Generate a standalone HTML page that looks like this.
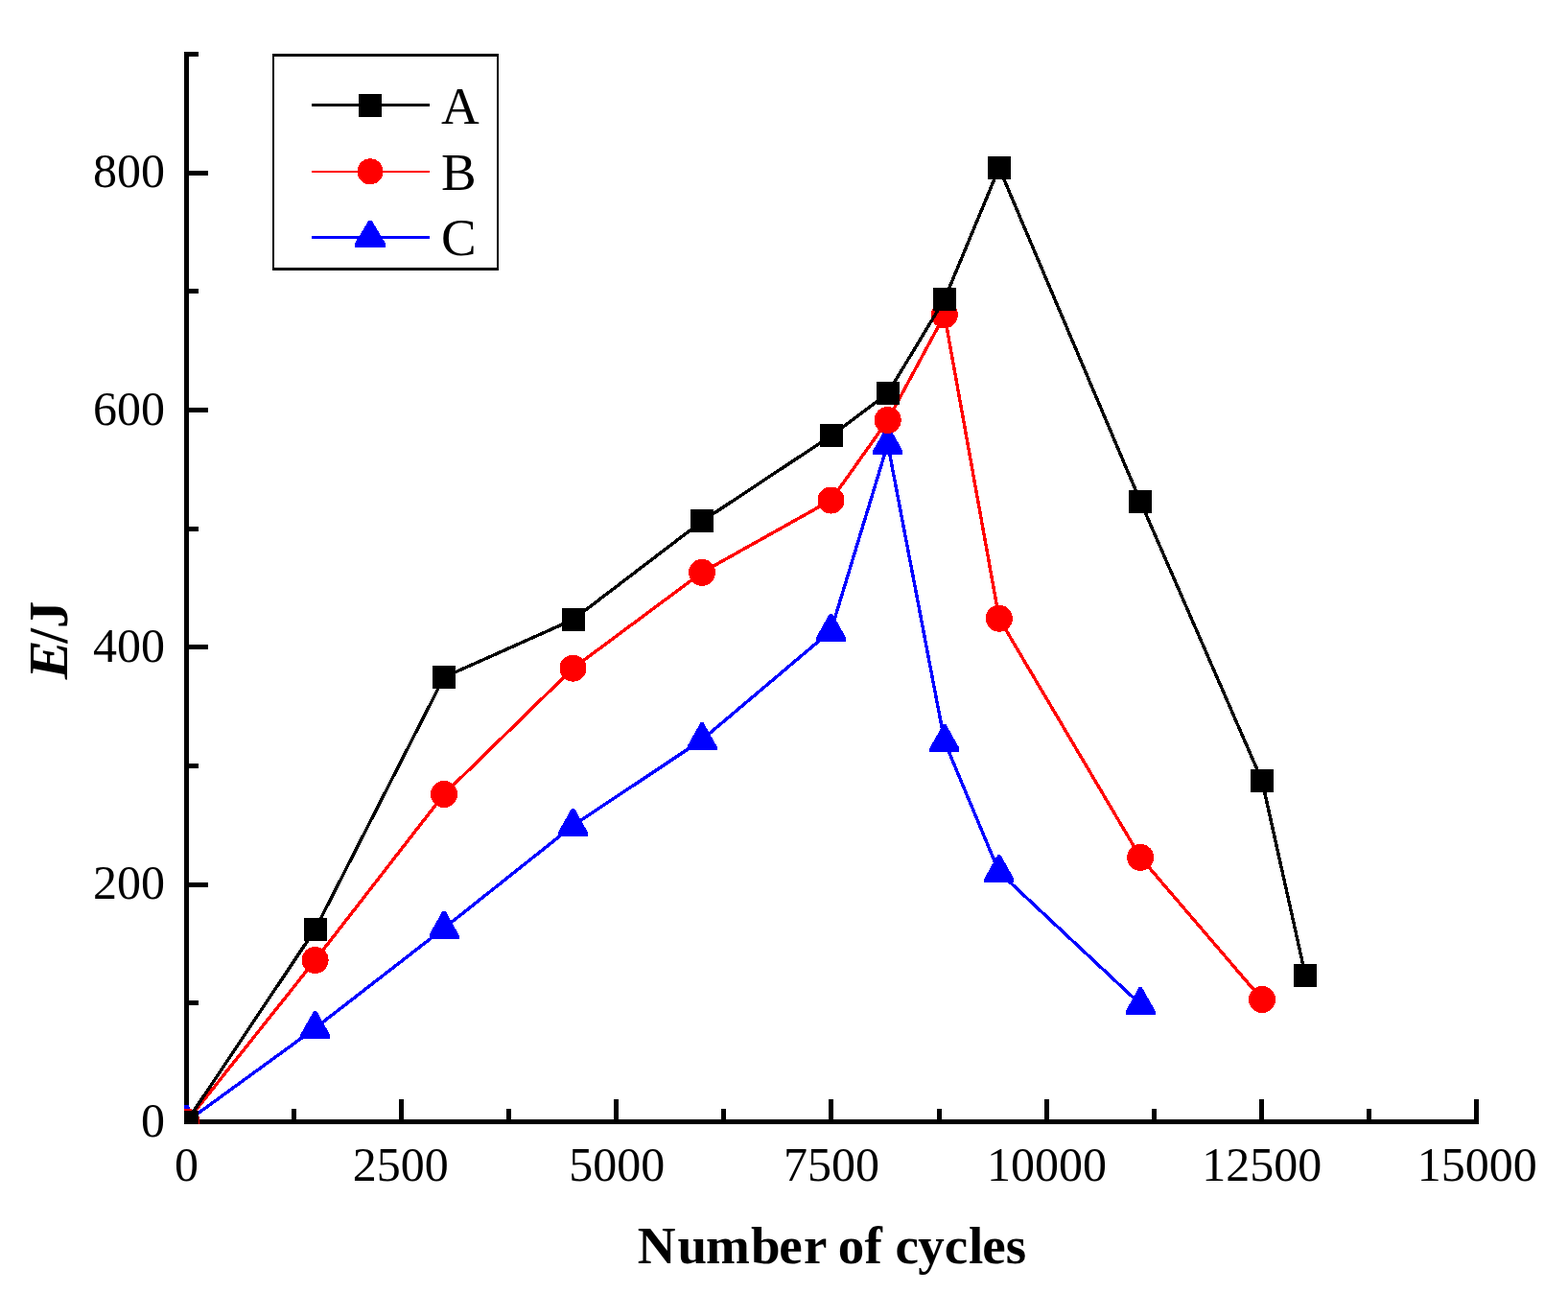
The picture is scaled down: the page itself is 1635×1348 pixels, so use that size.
<!DOCTYPE html>
<html><head><meta charset="utf-8"><title>E/J vs Number of cycles</title>
<style>html,body{margin:0;padding:0;background:#fff;overflow:hidden}svg{display:block}</style>
</head><body>
<svg width="1635" height="1348" viewBox="0 0 1635 1348" shape-rendering="crispEdges">
<rect width="1635" height="1348" fill="#fff"/>
<rect x="192" y="54" width="5" height="1118" fill="#000"/>
<rect x="192" y="1167" width="1350" height="5" fill="#000"/>
<rect x="197" y="1043.31" width="10" height="5" fill="#000"/>
<rect x="197" y="919.62" width="20" height="5" fill="#000"/>
<rect x="197" y="795.94" width="10" height="5" fill="#000"/>
<rect x="197" y="672.25" width="20" height="5" fill="#000"/>
<rect x="197" y="548.56" width="10" height="5" fill="#000"/>
<rect x="197" y="424.88" width="20" height="5" fill="#000"/>
<rect x="197" y="301.19" width="10" height="5" fill="#000"/>
<rect x="197" y="177.5" width="20" height="5" fill="#000"/>
<rect x="197" y="53.81" width="10" height="5" fill="#000"/>
<rect x="304.07" y="1156" width="5" height="11" fill="#000"/>
<rect x="416.15" y="1146" width="5" height="21" fill="#000"/>
<rect x="528.23" y="1156" width="5" height="11" fill="#000"/>
<rect x="640.3" y="1146" width="5" height="21" fill="#000"/>
<rect x="752.38" y="1156" width="5" height="11" fill="#000"/>
<rect x="864.45" y="1146" width="5" height="21" fill="#000"/>
<rect x="976.52" y="1156" width="5" height="11" fill="#000"/>
<rect x="1088.6" y="1146" width="5" height="21" fill="#000"/>
<rect x="1200.68" y="1156" width="5" height="11" fill="#000"/>
<rect x="1312.75" y="1146" width="5" height="21" fill="#000"/>
<rect x="1424.83" y="1156" width="5" height="11" fill="#000"/>
<rect x="1536.9" y="1146" width="5" height="21" fill="#000"/>
<text transform="translate(172 1184.8) scale(1 1.03)" text-anchor="end" font-family="Liberation Serif, Times New Roman, serif" font-size="50">0</text>
<text transform="translate(172 937.4) scale(1 1.03)" text-anchor="end" font-family="Liberation Serif, Times New Roman, serif" font-size="50">200</text>
<text transform="translate(172 690.05) scale(1 1.03)" text-anchor="end" font-family="Liberation Serif, Times New Roman, serif" font-size="50">400</text>
<text transform="translate(172 442.7) scale(1 1.03)" text-anchor="end" font-family="Liberation Serif, Times New Roman, serif" font-size="50">600</text>
<text transform="translate(172 195.3) scale(1 1.03)" text-anchor="end" font-family="Liberation Serif, Times New Roman, serif" font-size="50">800</text>
<text transform="translate(194.5 1231) scale(1 1.03)" text-anchor="middle" font-family="Liberation Serif, Times New Roman, serif" font-size="50">0</text>
<text transform="translate(417.65 1231) scale(1 1.03)" text-anchor="middle" font-family="Liberation Serif, Times New Roman, serif" font-size="50">2500</text>
<text transform="translate(643.3 1231) scale(1 1.03)" text-anchor="middle" font-family="Liberation Serif, Times New Roman, serif" font-size="50">5000</text>
<text transform="translate(866.95 1231) scale(1 1.03)" text-anchor="middle" font-family="Liberation Serif, Times New Roman, serif" font-size="50">7500</text>
<text transform="translate(1091.4 1231) scale(1 1.03)" text-anchor="middle" font-family="Liberation Serif, Times New Roman, serif" font-size="50">10000</text>
<text transform="translate(1315.75 1231) scale(1 1.03)" text-anchor="middle" font-family="Liberation Serif, Times New Roman, serif" font-size="50">12500</text>
<text transform="translate(1540.3 1231) scale(1 1.03)" text-anchor="middle" font-family="Liberation Serif, Times New Roman, serif" font-size="50">15000</text>
<text x="664.66 706.48 736.06 782.97 812.36 837.97 860.5 873.84 901.54 920 933.4 957.33 984.63 1010.03 1024.31 1048.72" y="1317" font-family="Liberation Serif, Times New Roman, serif" font-weight="bold" font-size="55">Number of cycles</text>
<g transform="translate(69.7 667.5) rotate(-90)"><text transform="translate(-40.82 0) scale(1.08 1)" font-style="italic" font-family="Liberation Serif, Times New Roman, serif" font-weight="bold" font-size="56.5">E</text><text x="-3.13" y="0" font-family="Liberation Serif, Times New Roman, serif" font-weight="bold" font-size="56.5">/J</text></g>
<defs><clipPath id="pc"><rect x="192" y="0" width="1443" height="1172"/></clipPath></defs>
<g clip-path="url(#pc)">
<polyline points="194.5,1169.5 328.6,1071.9 463,967.65 597.5,860.75 732,771.2 866.5,657.65 925.7,462.85 984.9,773.05 1041.8,909.15 1189.2,1047.15" fill="none" stroke="#0000ff" stroke-width="3.4" stroke-linejoin="round"/>
<polygon points="193,1151.5 196,1151.5 210,1176.5 210,1180.5 179,1180.5 179,1176.5" fill="#0000ff"/>
<polygon points="327.1,1053.9 330.1,1053.9 344.1,1078.9 344.1,1082.9 313.1,1082.9 313.1,1078.9" fill="#0000ff"/>
<polygon points="461.5,949.65 464.5,949.65 478.5,974.65 478.5,978.65 447.5,978.65 447.5,974.65" fill="#0000ff"/>
<polygon points="596,842.75 599,842.75 613,867.75 613,871.75 582,871.75 582,867.75" fill="#0000ff"/>
<polygon points="730.5,753.2 733.5,753.2 747.5,778.2 747.5,782.2 716.5,782.2 716.5,778.2" fill="#0000ff"/>
<polygon points="865,639.65 868,639.65 882,664.65 882,668.65 851,668.65 851,664.65" fill="#0000ff"/>
<polygon points="924.2,444.85 927.2,444.85 941.2,469.85 941.2,473.85 910.2,473.85 910.2,469.85" fill="#0000ff"/>
<polygon points="983.4,755.05 986.4,755.05 1000.4,780.05 1000.4,784.05 969.4,784.05 969.4,780.05" fill="#0000ff"/>
<polygon points="1040.3,891.15 1043.3,891.15 1057.3,916.15 1057.3,920.15 1026.3,920.15 1026.3,916.15" fill="#0000ff"/>
<polygon points="1187.7,1029.15 1190.7,1029.15 1204.7,1054.15 1204.7,1058.15 1173.7,1058.15 1173.7,1054.15" fill="#0000ff"/>
<polyline points="194.5,1169.5 328.6,1001 463,828 597.5,696.7 732,596.8 866.5,521.5 925.7,438 984.9,328.3 1041.8,644.7 1189.2,893.9 1316,1042" fill="none" stroke="#ff0000" stroke-width="3.4" stroke-linejoin="round"/>
<circle cx="194.5" cy="1169.5" r="14" fill="#ff0000"/>
<circle cx="328.6" cy="1001" r="14" fill="#ff0000"/>
<circle cx="463" cy="828" r="14" fill="#ff0000"/>
<circle cx="597.5" cy="696.7" r="14" fill="#ff0000"/>
<circle cx="732" cy="596.8" r="14" fill="#ff0000"/>
<circle cx="866.5" cy="521.5" r="14" fill="#ff0000"/>
<circle cx="925.7" cy="438" r="14" fill="#ff0000"/>
<circle cx="984.9" cy="328.3" r="14" fill="#ff0000"/>
<circle cx="1041.8" cy="644.7" r="14" fill="#ff0000"/>
<circle cx="1189.2" cy="893.9" r="14" fill="#ff0000"/>
<circle cx="1316" cy="1042" r="14" fill="#ff0000"/>
<polyline points="194.5,1169.5 328.6,969 463,706 597.5,646 732,543.4 866.5,454.4 925.7,410 984.9,312 1041.8,174.9 1189.2,522.9 1316,814 1361.2,1017.1" fill="none" stroke="#000" stroke-width="3.4" stroke-linejoin="round"/>
<rect x="182.5" y="1157.5" width="24" height="24" fill="#000"/>
<rect x="316.6" y="957" width="24" height="24" fill="#000"/>
<rect x="451" y="694" width="24" height="24" fill="#000"/>
<rect x="585.5" y="634" width="24" height="24" fill="#000"/>
<rect x="720" y="531.4" width="24" height="24" fill="#000"/>
<rect x="854.5" y="442.4" width="24" height="24" fill="#000"/>
<rect x="913.7" y="398" width="24" height="24" fill="#000"/>
<rect x="972.9" y="300" width="24" height="24" fill="#000"/>
<rect x="1029.8" y="162.9" width="24" height="24" fill="#000"/>
<rect x="1177.2" y="510.9" width="24" height="24" fill="#000"/>
<rect x="1304" y="802" width="24" height="24" fill="#000"/>
<rect x="1349.2" y="1005.1" width="24" height="24" fill="#000"/>
</g>
<rect x="284" y="56" width="236" height="3" fill="#000"/>
<rect x="284" y="279" width="236" height="3" fill="#000"/>
<rect x="284" y="56" width="2" height="226" fill="#000"/>
<rect x="518" y="56" width="2" height="226" fill="#000"/>
<rect x="325" y="108" width="123" height="3" fill="#000"/>
<rect x="374" y="98" width="24" height="24" fill="#000"/>
<rect x="325" y="178" width="123" height="2.2" fill="#ff0000"/>
<circle cx="386" cy="178.8" r="13.5" fill="#ff0000"/>
<rect x="325" y="246" width="123" height="3" fill="#0000ff"/>
<polygon points="384.5,229.8 387.5,229.8 402,253.6 402,257.6 370,257.6 370,253.6" fill="#0000ff"/>
<text x="460" y="129" font-family="Liberation Serif, Times New Roman, serif" font-size="55">A</text>
<text x="460" y="198" font-family="Liberation Serif, Times New Roman, serif" font-size="55">B</text>
<text x="460" y="266" font-family="Liberation Serif, Times New Roman, serif" font-size="55">C</text>
</svg>
</body></html>
